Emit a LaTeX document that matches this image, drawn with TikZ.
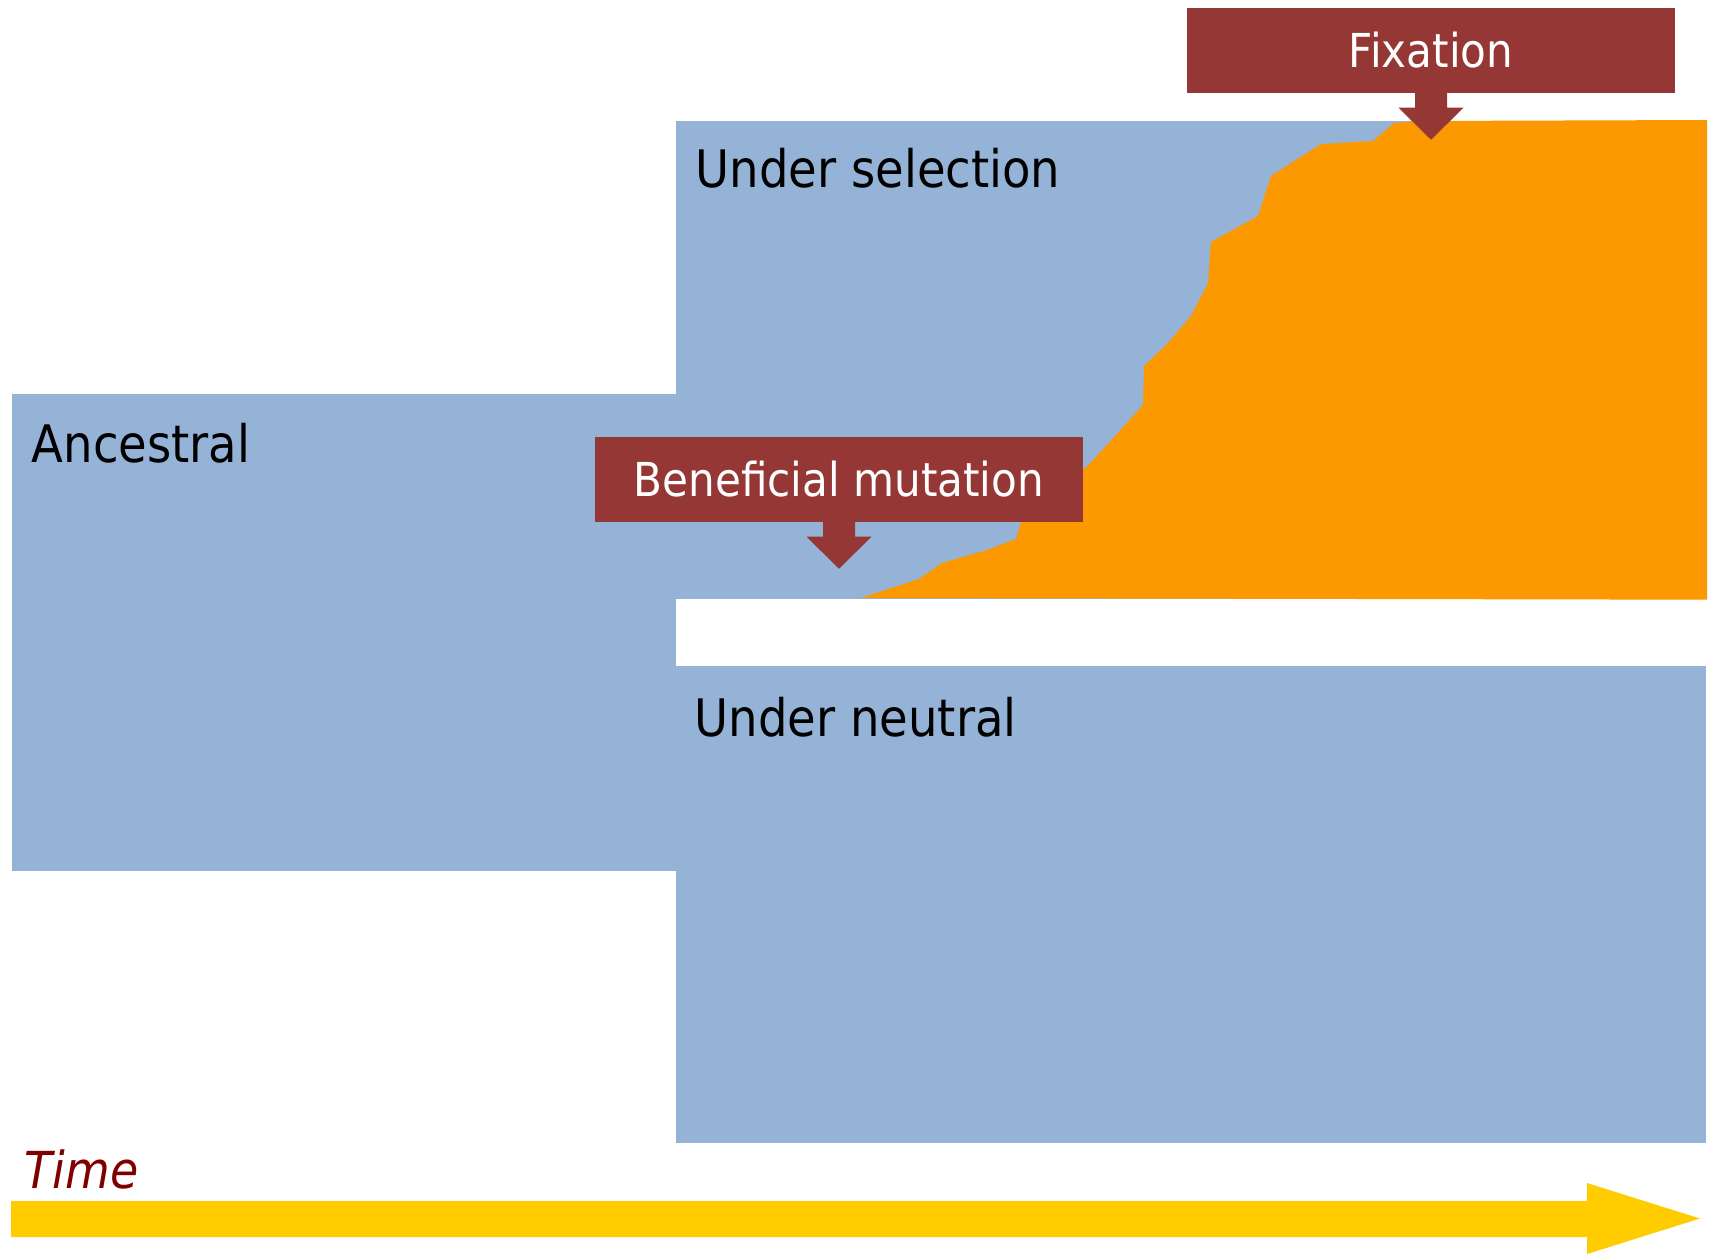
\documentclass[tikz,border=0pt]{standalone}
\usepackage{fontspec}
\setmainfont{DejaVu Sans}[FakeStretch=0.9]
\usetikzlibrary{calc,positioning}

\definecolor{stageblue}{HTML}{95B3D7}
\definecolor{sweeporange}{HTML}{FC9900}
\definecolor{calloutred}{HTML}{953735}
\definecolor{timeyellow}{HTML}{FFCC00}
\definecolor{timered}{HTML}{800000}

\begin{document}
\begin{tikzpicture}[
    x=0.01cm, y=-0.01cm,
    stage/.style={
        rectangle, fill=stageblue, draw=none, anchor=north west, inner sep=0pt
    },
    stageLabel/.style={
        anchor=base west, inner sep=0pt, text=black,
        font=\fontsize{14.7}{17}\selectfont
    },
    callout/.style={
        rectangle, fill=calloutred, draw=none, inner sep=0pt, text=white,
        minimum width=4.88cm, minimum height=0.85cm,
        font=\fontsize{13.3}{16}\selectfont
    },
    calloutTip/.style={fill=calloutred},
    sweep/.style={fill=sweeporange},
    timeArrow/.style={fill=timeyellow},
    timeLabel/.style={
        anchor=base west, inner sep=0pt, text=timered,
        font=\fontsize{14.5}{17}\selectfont\itshape
    }
]
\fill[white] (0,0) rectangle (1712,1254);
\useasboundingbox (0,0) rectangle (1712,1254);

% Populations
\node[stage, minimum width=6.64cm, minimum height=4.77cm] (anc) at (11,393) {};
\node[stage, minimum width=10.30cm, minimum height=4.78cm] (sel) at (675,120) {};
\node[stage, minimum width=10.30cm, minimum height=4.77cm] (neu) at (675,665) {};

% Spread of the beneficial allele
\fill[sweep] (861,598) -- (919,579) -- (942,563) -- (987,550) -- (1016,539)
    -- (1021,522) -- (1083,470) -- (1096,457) -- (1143,405) -- (1144,366)
    -- (1168,343) -- (1191,316) -- (1208,283) -- (1211,242) -- (1258,216)
    -- (1271,176) -- (1321,144) -- (1373,141) -- (1394,123) -- (1418,121)
    -- (sel.north east) -- (sel.south east) -- cycle;

% Labels
\node[stageLabel] (ancL) at ($(anc.north west)+(20,69)$) {Ancestral};
\node[stageLabel] (selL) at ($(sel.north west)+(20,67)$) {Under selection};
\node[stageLabel] (neuL) at ($(neu.north west)+(19,71)$) {Under neutral};

% Events
\node[callout] (mut) at (839,479.5) {Beneficial mutation};
\node[callout] (fix) at (1431,50.5) {Fixation};

\fill[calloutTip] ($(mut.south)+(-16,-1)$) -- ++(0,15) -- ++(-16.5,0) -- ++(32.5,32)
    -- ++(32.5,-32) -- ++(-16.5,0) -- ++(0,-15) -- cycle;
\fill[calloutTip] ($(fix.south)+(-16,-1)$) -- ++(0,15) -- ++(-16.5,0) -- ++(32.5,32)
    -- ++(32.5,-32) -- ++(-16.5,0) -- ++(0,-15) -- cycle;

% Time axis
\node[timeLabel] (time) at (24,1188) {Time};
\fill[timeArrow] (11,1201) -- (1587,1201) -- (1587,1183) -- (1700,1218.5)
    -- (1587,1254) -- (1587,1237) -- (11,1237) -- cycle;

\end{tikzpicture}
\end{document}
